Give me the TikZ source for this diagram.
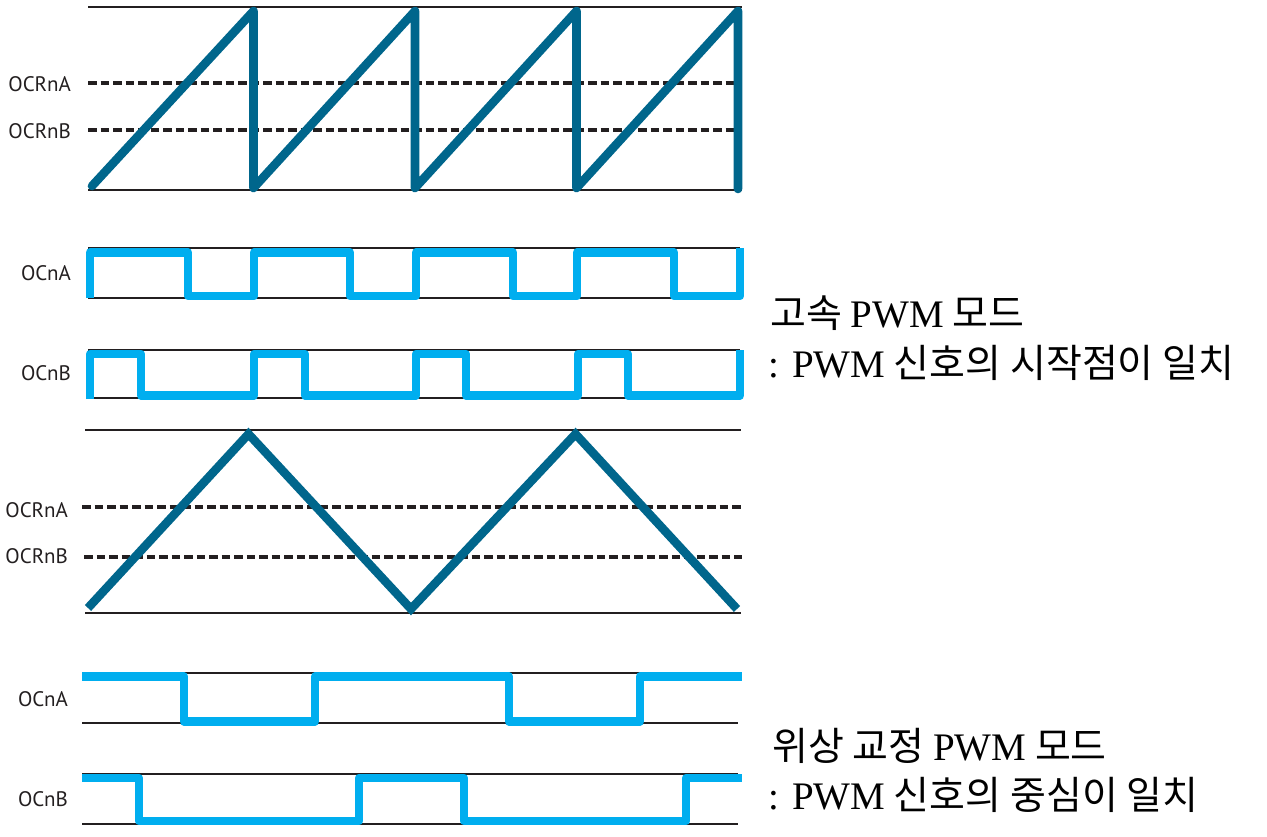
\documentclass[tikz,border=0pt]{standalone}
\usepackage{fontspec}
\usepackage{tikz}
\usepackage{xcolor}
\usetikzlibrary{positioning}
\newfontfamily\sigFont{PT Sans}
\newfontfamily\krFont{Noto Sans CJK KR}
\newfontfamily\latFont{Liberation Serif}
\definecolor{sawBlue}{RGB}{0,102,140}
\definecolor{pulseBlue}{RGB}{0,174,239}
\definecolor{gridInk}{RGB}{35,31,32}

\begin{document}
\begin{tikzpicture}[
  x=1pt,
  y=-1pt,
  rail/.style={draw=gridInk, line width=1.9pt},
  cmpline/.style={draw=gridInk, line width=3.2pt, dash pattern=on 8.5pt off 4pt},
  counter/.style={draw=sawBlue, line width=8.6pt, line join=round, line cap=round},
  ramp/.style={draw=sawBlue, line width=8.6pt, line join=miter},
  pulse/.style={draw=pulseBlue, line width=8.6pt, line join=round},
  sig/.style={font=\sigFont\fontsize{21}{23}\selectfont, text=gridInk, inner sep=0pt, anchor=east},
  note/.style={font=\krFont\fontsize{39}{44}\selectfont, text=black, inner sep=0pt, anchor=base west}
]
\useasboundingbox (0,0) rectangle (1267,837);

% fast PWM: counter
\draw[rail] (88,7) -- (742,7);
\draw[rail] (88,190) -- (742,190);
\draw[cmpline] (88,83) -- (737,83);
\draw[cmpline] (88,130) -- (737,130);
\draw[counter] (92,186) foreach \x in {253.5,415,576.5} { -- (\x,11) -- (\x,188) } -- (738,11) -- (738,189);

\node[sig] (fsA) at (71,84) {OCRnA};
\node[sig] (fsB) at (71,131) {OCRnB};

% fast PWM: outputs
\draw[rail] (88,248) -- (740,248);
\draw[rail] (88,298) -- (740,298);
\draw[pulse] (90,298) -- (90,252.5) -- (188,252.5) -- (188,296) -- (254,296) -- (254,252.5)
  -- (350,252.5) -- (350,296) -- (416,296) -- (416,252.5) -- (513,252.5) -- (513,296)
  -- (577,296) -- (577,252.5) -- (674,252.5) -- (674,296) -- (740,296) -- (740,248);
\draw[rail] (88,350) -- (740,350);
\draw[rail] (88,398) -- (740,398);
\draw[pulse] (90,399) -- (90,354) -- (141,354) -- (141,395.5) -- (254,395.5) -- (254,354)
  -- (305,354) -- (305,395.5) -- (416,395.5) -- (416,354) -- (466,354) -- (466,395.5)
  -- (578,395.5) -- (578,354) -- (628,354) -- (628,395.5) -- (740,395.5) -- (740,350);

\node[sig] (foA) at (71,273) {OCnA};
\node[sig] (foB) at (71,373) {OCnB};

% phase correct PWM: counter
\draw[rail] (85,430) -- (741,430);
\draw[rail] (85,613) -- (741,613);
\draw[cmpline] (82,507) -- (742,507);
\draw[cmpline] (84,557) -- (742,557);
\draw[ramp] (88,608) -- (248.5,434) -- (411,609) -- (575.5,434) -- (737,609);

\node[sig] (pcA) at (68,510) {OCRnA};
\node[sig] (pcB) at (68,556) {OCRnB};

% phase correct PWM: outputs
\draw[rail] (82,673) -- (738,673);
\draw[rail] (82,723) -- (738,723);
\draw[pulse] (82,676.5) -- (184,676.5) -- (184,721.5) -- (315,721.5) -- (315,676.5)
  -- (509,676.5) -- (509,721.5) -- (640,721.5) -- (640,676.5) -- (742,676.5);
\draw[rail] (82,774) -- (738,774);
\draw[rail] (82,824) -- (738,824);
\draw[pulse] (82,778) -- (139,778) -- (139,821) -- (359,821) -- (359,778)
  -- (464,778) -- (464,821) -- (686,821) -- (686,778) -- (742,778);

\node[sig] (poA) at (68,699) {OCnA};
\node[sig] (poB) at (68,799) {OCnB};

% notes
\node[note] (hsTitle) at (770,327) {고속 {\latFont PWM} 모드};
\node[note] (hsNote) at (768,377) {{\latFont : PWM} 신호의 시작점이 일치};
\node[note] (pcTitle) at (772,760) {위상 교정 {\latFont PWM} 모드};
\node[note] (pcNote) at (768,809) {{\latFont : PWM} 신호의 중심이 일치};
\end{tikzpicture}
\end{document}
